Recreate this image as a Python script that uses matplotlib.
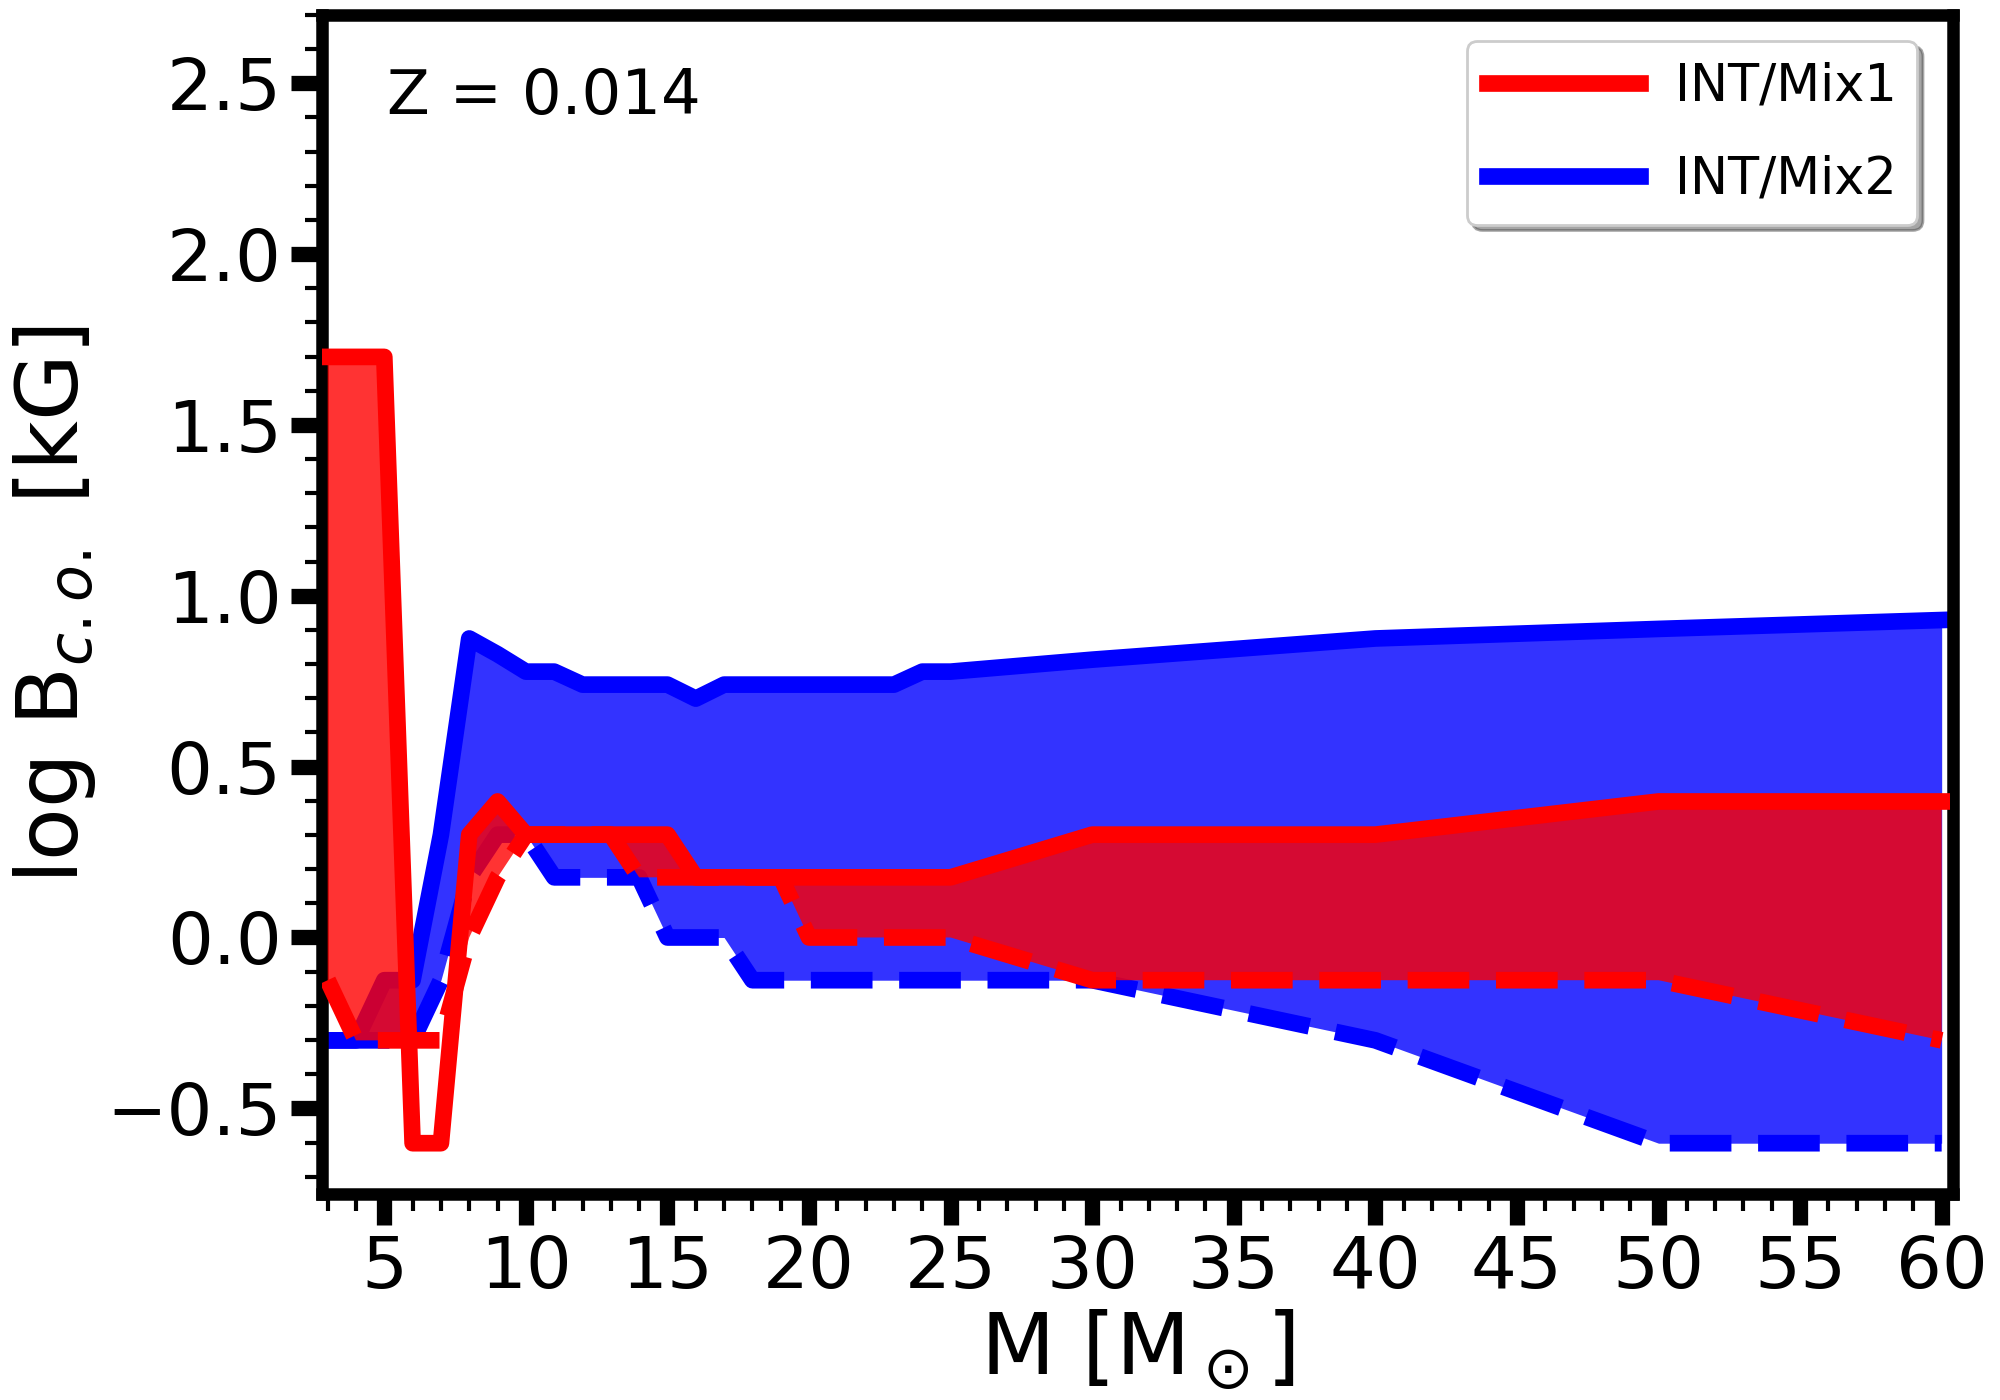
import numpy as np
import matplotlib
matplotlib.use('Agg')
import matplotlib.pyplot as plt
from matplotlib.ticker import MultipleLocator

# initial masses [Msun]
mass = [3, 4, 5, 6, 7, 8, 9, 10, 11, 12, 13, 14, 15, 16, 17, 18, 19, 20,
        21, 22, 23, 24, 25, 30, 40, 50, 60]

# log B_c.o. [kG], INT/Mix1 (upper = solid, lower = dashed)
mix1_hi = [1.699, 1.699, 1.699, -0.602, -0.602, 0.301, 0.398, 0.301, 0.301,
           0.301, 0.301, 0.301, 0.301, 0.176, 0.176, 0.176, 0.176, 0.176,
           0.176, 0.176, 0.176, 0.176, 0.176, 0.301, 0.301, 0.398, 0.398]
mix1_lo = [-0.125, -0.301, -0.301, -0.301, -0.301, 0.0, 0.176, 0.301, 0.301,
           0.301, 0.301, 0.176, 0.176, 0.176, 0.176, 0.176, 0.176, 0.0,
           0.0, 0.0, 0.0, 0.0, 0.0, -0.125, -0.125, -0.125, -0.301]

# INT/Mix2
mix2_hi = [-0.301, -0.301, -0.125, -0.125, 0.301, 0.875, 0.829, 0.778, 0.778,
           0.740, 0.740, 0.740, 0.740, 0.699, 0.740, 0.740, 0.740, 0.740,
           0.740, 0.740, 0.740, 0.778, 0.778, 0.813, 0.875, 0.903, 0.929]
mix2_lo = [-0.301, -0.301, -0.301, -0.301, -0.125, 0.176, 0.301, 0.301, 0.176,
           0.176, 0.176, 0.176, 0.0, 0.0, 0.0, -0.125, -0.125, -0.125,
           -0.125, -0.125, -0.125, -0.125, -0.125, -0.125, -0.301, -0.602, -0.602]

m = np.array(mass)
r_hi, r_lo = np.array(mix1_hi), np.array(mix1_lo)
b_hi, b_lo = np.array(mix2_hi), np.array(mix2_lo)

fig = plt.figure(figsize=(10, 7), dpi=200)
ax = fig.add_axes([0.161, 0.1473, 0.8155, 0.8421])

ax.fill_between(m, b_lo, b_hi, color='b', alpha=0.8, lw=0, zorder=1)
l2, = ax.plot(m, b_hi, 'b-', lw=6, zorder=2)
ax.plot(m, b_lo, 'b--', lw=6, zorder=2)

ax.fill_between(m, r_lo, r_hi, where=r_hi >= r_lo, interpolate=True,
                color='r', alpha=0.8, lw=0, zorder=3)
l1, = ax.plot(m, r_hi, 'r-', lw=6, zorder=4)
ax.plot(m, r_lo, 'r--', lw=6, zorder=4)

ax.set_xlim(2.8, 60.4)
ax.set_ylim(-0.75, 2.7)

ax.xaxis.set_major_locator(MultipleLocator(5))
ax.xaxis.set_minor_locator(MultipleLocator(1))
ax.yaxis.set_major_locator(MultipleLocator(0.5))
ax.yaxis.set_minor_locator(MultipleLocator(0.1))
ax.tick_params(which='major', direction='out', length=11, width=5.5, labelsize=26)
ax.tick_params(which='minor', direction='out', length=6, width=1.5)
for s in ax.spines.values():
    s.set_linewidth(4.5)

ax.set_xlabel(r'M [M$_\odot$]', fontsize=31, labelpad=2)
ax.set_ylabel(r'log B$_{c.o.}$ [kG]', fontsize=31, labelpad=3)

ax.text(0.04, 0.93, 'Z = 0.014', transform=ax.transAxes, fontsize=22.5, va='center')

ax.legend([l1, l2], ['INT/Mix1', 'INT/Mix2'], loc='upper right', fontsize=18.3,
          shadow=True, handlelength=3.0, handletextpad=0.7, labelspacing=0.85,
          borderaxespad=0.7, bbox_to_anchor=(1.0, 1.008))

fig.savefig('out.png', dpi=200)
